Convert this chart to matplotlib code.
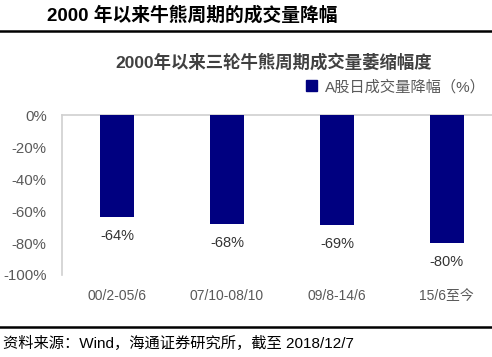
import matplotlib.pyplot as plt
import matplotlib.patches as mpatches
from matplotlib.lines import Line2D

# data
periods = ['00/2-05/6', '07/10-08/10', '09/8-14/6', '15/6至今']
declines = [-64, -68, -69, -80]
yticks = [0, -20, -40, -60, -80, -100]

plt.rcParams['font.family'] = ['Liberation Sans', 'Noto Sans CJK SC', 'DejaVu Sans']

fig = plt.figure(figsize=(4.92, 3.57), dpi=100)
ax = fig.add_axes([0.126, 0.2297, 0.894, 0.448])

navy = '#000080'
grey = '#595959'

x = range(len(periods))
ax.bar(x, declines, width=0.31, color=navy, zorder=3)
for i, v in enumerate(declines):
    ax.text(i, v - 7.5, '%d%%' % v, ha='center', va='top', fontsize=10.5, color='#333333')

ax.set_xlim(-0.5, 3.5)
ax.set_ylim(-100, 0)
ax.set_yticks(yticks)
ax.set_yticklabels(['%d%%' % t for t in yticks], fontsize=10.8, color=grey)
ax.set_xticks(list(x))
ax.set_xticklabels(periods, fontsize=10, color=grey)
ax.tick_params(axis='both', length=0)
ax.tick_params(axis='y', pad=11)
ax.tick_params(axis='x', pad=10)
for s in ['right', 'bottom']:
    ax.spines[s].set_visible(False)
ax.spines['top'].set_color('#d0d0d0')
ax.spines['left'].set_color('#d0d0d0')
ax.spines['top'].set_linewidth(1.2)
ax.spines['left'].set_linewidth(1.2)

patch = mpatches.Patch(color=navy, label='A股日成交量降幅（%）')
leg = fig.legend(handles=[patch], loc='center left', bbox_to_anchor=(0.595, 0.757),
                 frameon=False, fontsize=11, handlelength=0.7, handleheight=0.7,
                 handletextpad=0.5)
for t in leg.get_texts():
    t.set_color(grey)

fig.text(0.556, 0.826, '2000年以来三轮牛熊周期成交量萎缩幅度', ha='center', va='center',
         fontsize=12.5, fontweight='bold', color='#404040')

fig.text(0.095, 0.957, '2000 年以来牛熊周期的成交量降幅', ha='left', va='center',
         fontsize=13.5, fontweight='bold', color='black')

fig.add_artist(Line2D([0, 1], [0.913, 0.913], color='black', linewidth=1.8))
fig.add_artist(Line2D([0, 1], [0.084, 0.084], color='black', linewidth=1.8))

fig.text(0.006, 0.038, '资料来源：Wind，海通证券研究所，截至 2018/12/7', ha='left', va='center',
         fontsize=11, color='black')

fig.savefig('out.png', dpi=100)
